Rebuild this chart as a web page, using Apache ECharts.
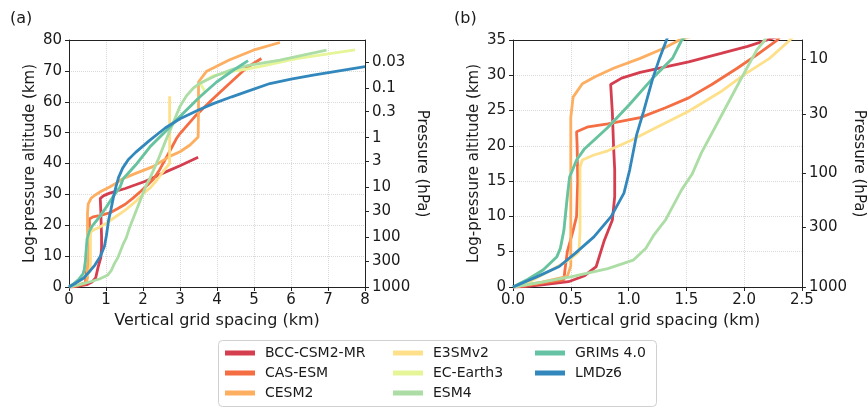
<!DOCTYPE html>
<html>
<head>
<meta charset="utf-8">
<script src="https://cdn.jsdelivr.net/npm/echarts@6/dist/echarts.min.js"></script>
<style>
html,body{margin:0;padding:0;background:#fff;}
#chart{width:867px;height:409px;}
</style>
</head>
<body>
<div id="chart"></div>
<script>
// ---- data: [vertical grid spacing (km), log-pressure altitude (km)] ----
var models = ['BCC-CSM2-MR','CAS-ESM','CESM2','E3SMv2','EC-Earth3','ESM4','GRIMs 4.0','LMDz6'];
var colors = ['#d53e4f','#f46d43','#fdae61','#fee08b','#e6f598','#abdda4','#66c2a5','#3288bd'];

var bcc = [[0,0],[0.1,0.05],[0.25,0.3],[0.48,0.75],[0.62,1.6],[0.72,2.9],[0.79,6.6],[0.86,9.5],[0.88,12.8],[0.88,16.6],[0.87,20],[0.86,24.6],[0.845,28.7],[0.94,29.6],[1.1,30.4],[1.29,31.1],[1.52,31.9],[1.8,33.1],[2.03,34.1],[2.2,35],[2.6,37.2],[3.0,39.3],[3.49,42.0]];
var cas = [[0,0],[0.2,0.4],[0.44,1.0],[0.45,2.5],[0.47,5],[0.52,8],[0.55,10],[0.56,15],[0.555,20],[0.55,22],[0.65,22.7],[0.82,23.1],[1.1,24],[1.32,25.4],[1.52,26.8],[1.72,28.7],[1.94,31],[2.11,32.9],[2.28,34.9],[2.45,38],[2.68,43],[2.9,48],[3.0,49.7],[3.4,55.2],[3.85,60.5],[4.3,65.5],[4.8,71],[5.2,74]];
var cesm2 = [[0,0],[0.25,0.7],[0.47,1.5],[0.5,3],[0.5,10],[0.5,20],[0.5,24],[0.52,26.9],[0.6,28.8],[0.71,29.8],[0.87,31],[1.1,32.4],[1.3,33.8],[1.44,35],[1.8,36.8],[2.27,39],[2.72,42.3],[3.0,43.8],[3.27,46],[3.49,48.6],[3.5,57],[3.5,66.4],[3.72,69.9],[4.33,73.5],[4.98,76.7],[5.7,79.2]];
var e3smv2 = [[0,0],[0.15,0.8],[0.31,2.2],[0.5,4.0],[0.57,5],[0.58,8],[0.58,12],[0.58,17],[0.6,18],[0.7,18.7],[0.82,19.3],[1.01,20.7],[1.24,22.6],[1.52,24.9],[1.8,27.7],[2.0,30.1],[2.22,32.4],[2.39,34.9],[2.55,37.5],[2.72,40],[2.72,50],[2.72,61.8]];
var ecearth3 = [[0,0],[0.13,1.1],[0.26,2.4],[0.38,4.3],[0.41,5.5],[0.44,8],[0.47,12.8],[0.49,15.6],[0.55,18],[0.62,19.6],[0.82,22.6],[1.01,25.9],[1.21,29.6],[1.38,32.4],[1.46,35],[1.8,39.5],[2.19,45.4],[2.64,50.8],[3.08,56.2],[3.54,61.6],[3.68,63.2],[3.55,65.9],[3.9,68.4],[4.4,69.8],[4.8,70.6],[5.25,71.6],[6.15,74],[7.05,75.6],[7.73,76.8]];
var esm4 = [[0,0],[0.25,0.7],[0.51,1.46],[0.82,2.6],[1.04,3.8],[1.15,5.5],[1.22,7.4],[1.32,9.5],[1.46,13.8],[1.55,16],[1.63,19],[1.8,24.2],[1.97,29.4],[2.11,33.6],[2.18,35],[2.4,41],[2.6,47],[2.81,53],[3.0,58.5],[3.18,62],[3.35,64.3],[3.54,66],[3.99,68.6],[4.44,70.6],[4.85,71.8],[5.7,73.5],[6.96,76.7]];
var grims = [[0,0],[0.13,1.1],[0.26,2.4],[0.38,4.3],[0.41,5.5],[0.44,8],[0.47,12.8],[0.49,15.6],[0.55,18],[0.62,19.6],[0.82,22.6],[1.01,25.9],[1.21,29.6],[1.38,32.4],[1.46,35],[1.8,39.5],[2.19,45.4],[2.64,50.8],[3.08,56.2],[3.54,61.6],[3.99,66.4],[4.44,70.2],[4.84,73.3]];
var lmdz6 = [[0,0],[0.2,1.4],[0.4,2.9],[0.54,4.8],[0.7,7.1],[0.85,10],[0.96,13.3],[1.01,16.6],[1.07,21.6],[1.13,24.9],[1.21,29.6],[1.27,32.5],[1.34,35.5],[1.45,38.5],[1.6,41.2],[1.8,43.6],[2.18,47.5],[2.6,51.5],[3.0,54.5],[3.5,57.3],[3.9,59.4],[4.4,61.6],[4.8,63.3],[5.43,65.9],[6.0,67.3],[6.6,68.6],[7.3,70],[8.0,71.4]];
var seriesData = [bcc, cas, cesm2, e3smv2, ecearth3, esm4, grims, lmdz6];

// right axis pressure ticks (hPa); log-pressure altitude z = H ln(1000/p)
var scaleHeight = 7;
var pressureTicksA = [0.03, 0.1, 0.3, 1, 3, 10, 30, 100, 300, 1000];
var pressureTicksB = [10, 30, 100, 300, 1000];

// ---- chart ----
var font = 'DejaVu Sans, Noto Sans, sans-serif';
var txt = '#1a1a1a';
var spine = '#222';
var gridLine = {show:true, showMinLine:false, showMaxLine:false, lineStyle:{color:'#d9d9d9', type:'dotted', width:1}};
function zOf(p){ return scaleHeight * Math.log(1000 / p); }
function pressureAxis(gridIndex, maxV, ticks){
  var pos = ticks.map(zOf);
  return {
    type:'value', gridIndex:gridIndex, position:'right', min:0, max:maxV,
    name:'Pressure (hPa)', nameLocation:'middle', nameRotate:-90,
    nameGap: gridIndex === 0 ? 45.5 : 41.5,
    nameTextStyle:{fontFamily:font, fontSize:15, color:txt},
    axisLine:{show:true, onZero:false, lineStyle:{color:spine, width:1}},
    axisTick:{show:true, inside:false, length:4, customValues:pos, lineStyle:{color:spine}},
    axisLabel:{show:true, customValues:pos, margin:7, fontFamily:font, fontSize:15, color:txt,
      formatter:function(v){
        var best = 0, d = 1e9;
        for (var i=0;i<pos.length;i++){ var dd=Math.abs(pos[i]-v); if(dd<d){d=dd;best=i;} }
        return String(ticks[best]);
      }},
    splitLine:{show:false}
  };
}
function xAx(gridIndex, maxV, interval, dec){
  return {
    type:'value', gridIndex:gridIndex, min:0, max:maxV, interval:interval,
    name:'Vertical grid spacing (km)', nameLocation:'middle', nameGap:26,
    nameTextStyle:{fontFamily:font, fontSize:16, color:txt},
    axisLine:{show:true, onZero:false, lineStyle:{color:spine, width:1}},
    axisTick:{show:true, inside:false, length:4, lineStyle:{color:spine}},
    axisLabel:{margin:6, fontFamily:font, fontSize:15, color:txt,
      formatter:function(v){ return v.toFixed(dec); }},
    splitLine:gridLine
  };
}
function topAx(gridIndex, maxV){
  return {
    type:'value', gridIndex:gridIndex, position:'top', min:0, max:maxV,
    axisLine:{show:true, onZero:false, lineStyle:{color:spine, width:1}},
    axisTick:{show:false}, axisLabel:{show:false}, splitLine:{show:false}
  };
}
function yAx(gridIndex, maxV, interval){
  return {
    type:'value', gridIndex:gridIndex, position:'left', min:0, max:maxV, interval:interval,
    name:'Log-pressure altitude (km)', nameLocation:'middle', nameRotate:90, nameGap:31.5,
    nameTextStyle:{fontFamily:font, fontSize:15, color:txt},
    axisLine:{show:true, onZero:false, lineStyle:{color:spine, width:1}},
    axisTick:{show:true, inside:false, length:4, lineStyle:{color:spine}},
    axisLabel:{margin:7, fontFamily:font, fontSize:15, color:txt},
    splitLine:gridLine
  };
}

var series = [];
models.forEach(function(name, i){
  [[0,0],[1,2]].forEach(function(ax){
    series.push({
      type:'line', name:name, data:seriesData[i],
      xAxisIndex:ax[0], yAxisIndex:ax[1],
      showSymbol:false, symbol:'none', clip:true, smooth:false,
      lineStyle:{color:colors[i], width:2.8},
      itemStyle:{color:colors[i]},
      emphasis:{disabled:true}, animation:false, z:2+i
    });
  });
});

function legendCol(left, names){
  return {
    orient:'vertical', left:left, top:345, height:60, padding:0, itemGap:4, itemWidth:30, itemHeight:5,
    icon:'rect', selectedMode:false, data:names,
    textStyle:{fontFamily:font, fontSize:14, color:txt, lineHeight:16, padding:[0,0,0,5]}
  };
}

var option = {
  backgroundColor:'#fff',
  animation:false,
  grid:[
    {left:69, top:40, width:296, height:247},
    {left:513, top:40, width:297, height:247}
  ],
  xAxis:[ xAx(0, 8, 1, 0), xAx(1, 2.5, 0.5, 1), topAx(0, 8), topAx(1, 2.5) ],
  yAxis:[ yAx(0, 80, 10), pressureAxis(0, 80, pressureTicksA), yAx(1, 35, 5), pressureAxis(1, 35, pressureTicksB) ],
  legend:[
    legendCol(225, models.slice(0,3)),
    legendCol(393, models.slice(3,6)),
    legendCol(535, models.slice(6,8))
  ],
  graphic:[
    {type:'rect', z:-10, shape:{x:218.5, y:340.5, width:438, height:66, r:4}, style:{fill:'#fff', stroke:'#d0d0d0', lineWidth:1}},
    {type:'text', left:10, top:11, style:{text:'(a)', fontFamily:font, fontSize:16, fill:txt}},
    {type:'text', left:454, top:11, style:{text:'(b)', fontFamily:font, fontSize:16, fill:txt}}
  ],
  series:series
};
var chart = echarts.init(document.getElementById('chart'), null, {renderer:'canvas'});
chart.setOption(option);
</script>
</body>
</html>
